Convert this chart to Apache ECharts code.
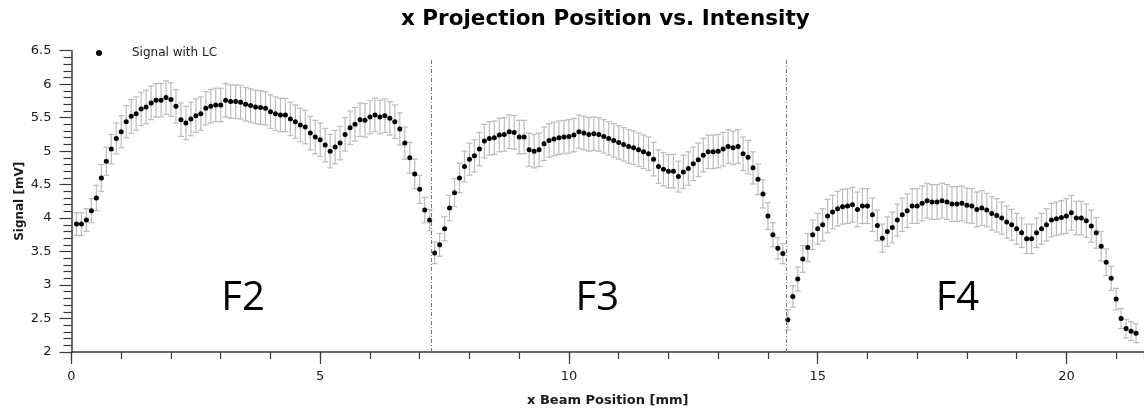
<!DOCTYPE html>
<html>
<head>
<meta charset="utf-8">
<title>x Projection Position vs. Intensity</title>
<script src="https://cdn.jsdelivr.net/npm/echarts@6/dist/echarts.min.js"></script>
<style>
  html, body { margin: 0; padding: 0; background: #fff; }
  #chart { width: 1144px; height: 412px; }
</style>
</head>
<body>
<div id="chart"></div>
<script>
// samples every 0.1 mm starting at 0.1 mm
var firstPosition = 0.1;
var positionStep = 0.1;

// signal [mV], read per field
var f2Signal = [
  3.91, 3.91, 3.97, 4.11, 4.30, 4.60, 4.85, 5.03, 5.19, 5.29,
  5.44, 5.52, 5.56, 5.63, 5.66, 5.72, 5.76, 5.76, 5.80, 5.77,
  5.67, 5.47, 5.42, 5.48, 5.53, 5.56, 5.64, 5.67, 5.69, 5.69,
  5.76, 5.74, 5.74, 5.73, 5.70, 5.68, 5.66, 5.65, 5.64, 5.59,
  5.56, 5.54, 5.54, 5.48, 5.44, 5.39, 5.36, 5.27, 5.21, 5.17,
  5.09, 5.00, 5.06, 5.12, 5.25, 5.35, 5.40, 5.47, 5.46, 5.51,
  5.54, 5.51, 5.53, 5.49, 5.44, 5.33, 5.12, 4.90, 4.66, 4.43,
  4.12, 3.97
];
var f3Signal = [
  3.48, 3.60, 3.84, 4.15, 4.38, 4.60, 4.77, 4.88, 4.93, 5.03,
  5.15, 5.19, 5.20, 5.24, 5.25, 5.29, 5.28, 5.21, 5.21, 5.02,
  5.00, 5.02, 5.11, 5.16, 5.18, 5.20, 5.21, 5.22, 5.24, 5.29,
  5.27, 5.25, 5.26, 5.25, 5.22, 5.19, 5.16, 5.13, 5.10, 5.07,
  5.05, 5.02, 4.99, 4.96, 4.88, 4.77, 4.73, 4.70, 4.70, 4.62,
  4.69, 4.74, 4.81, 4.87, 4.94, 4.99, 4.99, 5.00, 5.03, 5.07,
  5.05, 5.07, 4.96, 4.91, 4.75, 4.58, 4.36, 4.03, 3.75, 3.55,
  3.47
];
var f4Signal = [
  2.48, 2.83, 3.09, 3.39, 3.56, 3.75, 3.84, 3.90, 4.03, 4.09,
  4.14, 4.17, 4.18, 4.20, 4.13, 4.18, 4.18, 4.05, 3.89, 3.70,
  3.80, 3.86, 3.97, 4.05, 4.11, 4.18, 4.18, 4.22, 4.26, 4.24,
  4.24, 4.26, 4.24, 4.21, 4.21, 4.22, 4.19, 4.18, 4.13, 4.15,
  4.12, 4.07, 4.04, 4.00, 3.94, 3.90, 3.84, 3.78, 3.69, 3.69,
  3.78, 3.84, 3.90, 3.97, 3.99, 4.01, 4.03, 4.08, 4.00, 4.00,
  3.96, 3.88, 3.78, 3.58, 3.34, 3.10, 2.79, 2.50, 2.35, 2.31,
  2.28
];

// half length of the error bars [mV]
var f2Error = [
  0.17, 0.17, 0.17, 0.18, 0.19, 0.20, 0.21, 0.22, 0.23, 0.24,
  0.24, 0.25, 0.25, 0.25, 0.25, 0.25, 0.25, 0.25, 0.25, 0.25,
  0.25, 0.25, 0.25, 0.25, 0.25, 0.25, 0.25, 0.25, 0.25, 0.25,
  0.25, 0.25, 0.25, 0.25, 0.25, 0.25, 0.25, 0.25, 0.25, 0.25,
  0.25, 0.25, 0.25, 0.25, 0.25, 0.25, 0.25, 0.25, 0.25, 0.25,
  0.25, 0.25, 0.25, 0.25, 0.25, 0.25, 0.25, 0.25, 0.25, 0.25,
  0.25, 0.25, 0.25, 0.25, 0.25, 0.24, 0.24, 0.23, 0.22, 0.21,
  0.19, 0.16
];
var f3Error = [
  0.16, 0.17, 0.18, 0.19, 0.21, 0.22, 0.23, 0.24, 0.24, 0.25,
  0.25, 0.25, 0.25, 0.25, 0.25, 0.25, 0.25, 0.25, 0.25, 0.25,
  0.25, 0.25, 0.25, 0.25, 0.25, 0.25, 0.25, 0.25, 0.25, 0.25,
  0.25, 0.25, 0.25, 0.25, 0.25, 0.25, 0.25, 0.25, 0.25, 0.25,
  0.25, 0.25, 0.25, 0.25, 0.25, 0.25, 0.25, 0.25, 0.25, 0.23,
  0.25, 0.25, 0.25, 0.25, 0.25, 0.25, 0.25, 0.25, 0.25, 0.25,
  0.25, 0.25, 0.25, 0.25, 0.24, 0.23, 0.21, 0.20, 0.18, 0.16,
  0.15
];
var f4Error = [
  0.15, 0.16, 0.18, 0.20, 0.21, 0.22, 0.23, 0.24, 0.25, 0.25,
  0.26, 0.26, 0.26, 0.26, 0.26, 0.26, 0.26, 0.25, 0.23, 0.21,
  0.22, 0.23, 0.24, 0.25, 0.25, 0.26, 0.26, 0.26, 0.26, 0.26,
  0.26, 0.26, 0.26, 0.26, 0.26, 0.26, 0.26, 0.26, 0.26, 0.26,
  0.25, 0.25, 0.25, 0.24, 0.24, 0.23, 0.23, 0.22, 0.22, 0.22,
  0.22, 0.23, 0.24, 0.25, 0.25, 0.25, 0.26, 0.26, 0.25, 0.25,
  0.25, 0.24, 0.23, 0.22, 0.20, 0.18, 0.16, 0.15, 0.14, 0.14,
  0.14
];

// field borders [mm] and the field names written in the plot
var dividers = [7.24, 14.37];
var dividerTop = 6.38;
var fieldNames = ['F2', 'F3', 'F4'];
var fieldLabelX = [3.45, 10.57, 17.81];
var fieldLabelY = 2.79;

function buildPoints () {
  var signal = f2Signal.concat(f3Signal, f4Signal);
  var error = f2Error.concat(f3Error, f4Error);
  var points = [];
  for (var i = 0; i < signal.length; i++) {
    var x = Math.round((firstPosition + i * positionStep) * 10) / 10;
    points.push([x, signal[i], error[i]]);
  }
  return points;
}

function renderErrorBar (params, api) {
  var x = api.value(0);
  var y = api.value(1);
  var e = api.value(2);
  var hi = api.coord([x, y + e]);
  var lo = api.coord([x, y - e]);
  var cap = 3;
  var style = { stroke: '#bcbcbc', lineWidth: 1.2 };
  return {
    type: 'group',
    children: [
      { type: 'line', shape: { x1: hi[0], y1: hi[1], x2: lo[0], y2: lo[1] }, style: style },
      { type: 'line', shape: { x1: hi[0] - cap, y1: hi[1], x2: hi[0] + cap, y2: hi[1] }, style: style },
      { type: 'line', shape: { x1: lo[0] - cap, y1: lo[1], x2: lo[0] + cap, y2: lo[1] }, style: style }
    ]
  };
}

function drawChart () {
  var chartDom = document.getElementById('chart');
  var myChart = echarts.init(chartDom, null, { renderer: 'canvas' });
  var points = buildPoints();
  var axisColor = '#3a3a3a';
  var textColor = '#1a1a1a';

  var dividerLines = dividers.map(function (d) {
    return [{ coord: [d, 2] }, { coord: [d, dividerTop] }];
  });
  var fieldLabels = fieldNames.map(function (n, i) {
    return { name: n, value: [fieldLabelX[i], fieldLabelY] };
  });

  var option = {
    animation: false,
    textStyle: { fontFamily: 'DejaVu Sans' },
    title: {
      text: 'x Projection Position vs. Intensity',
      left: 401,
      top: 8,
      padding: 0,
      textStyle: { fontFamily: 'DejaVu Sans', fontWeight: 'bold', fontSize: 21.5, color: '#000' }
    },
    legend: {
      data: [{ name: 'Signal with LC', icon: 'circle', itemStyle: { color: '#000', opacity: 1 } }],
      left: 96,
      top: 47,
      padding: 0,
      itemWidth: 6,
      itemHeight: 6,
      textStyle: { fontFamily: 'DejaVu Sans', fontSize: 12, color: textColor, padding: [0, 0, 0, 25] }
    },
    grid: { left: 71.5, right: 0, top: 50.7, bottom: 58, containLabel: false },
    xAxis: [
      {
        type: 'value',
        min: 0,
        max: 21.56,
        interval: 5,
        name: 'x Beam Position [mm]',
        nameLocation: 'middle',
        nameGap: 42,
        nameTextStyle: { fontFamily: 'DejaVu Sans', fontWeight: 'bold', fontSize: 13, color: textColor },
        axisLine: { show: true, onZero: false, lineStyle: { color: axisColor, width: 1.5 } },
        axisTick: { show: true, length: 12, lineStyle: { color: axisColor, width: 1.2 } },
        axisLabel: { margin: 18, fontSize: 13, color: textColor, showMaxLabel: false },
        splitLine: { show: false }
      },
      {
        type: 'value',
        min: 0,
        max: 21.56,
        interval: 1,
        position: 'bottom',
        axisLine: { show: false, onZero: false },
        axisTick: { show: true, length: 7, lineStyle: { color: axisColor, width: 1.2 } },
        axisLabel: { show: false },
        splitLine: { show: false }
      }
    ],
    yAxis: {
      type: 'value',
      min: 2,
      max: 6.5,
      interval: 0.5,
      name: 'Signal [mV]',
      nameLocation: 'middle',
      nameGap: 46,
      nameMoveOverlap: false,
      nameTextStyle: { fontFamily: 'DejaVu Sans', fontWeight: 'bold', fontSize: 12, color: textColor },
      axisLine: { show: true, onZero: false, lineStyle: { color: axisColor, width: 1.5 } },
      axisTick: { show: true, length: 12, lineStyle: { color: axisColor, width: 1.2 } },
      minorTick: { show: true, splitNumber: 5, length: 8, lineStyle: { color: axisColor, width: 1.2 } },
      axisLabel: { margin: 20, fontSize: 13, color: textColor },
      splitLine: { show: false }
    },
    series: [
      {
        name: 'error',
        type: 'custom',
        renderItem: renderErrorBar,
        encode: { x: 0, y: 1 },
        data: points,
        z: 2,
        silent: true
      },
      {
        name: 'Signal with LC',
        type: 'scatter',
        data: points,
        symbol: 'circle',
        symbolSize: 5,
        itemStyle: { color: '#000', opacity: 1 },
        z: 3,
        markLine: {
          silent: true,
          symbol: 'none',
          label: { show: false },
          lineStyle: { color: '#777', width: 1, type: [4, 2, 1, 2] },
          data: dividerLines
        }
      },
      {
        name: 'fields',
        type: 'scatter',
        data: fieldLabels,
        symbolSize: 1,
        itemStyle: { color: '#fff', opacity: 1 },
        silent: true,
        label: {
          show: true,
          position: 'inside',
          formatter: '{b}',
          fontFamily: 'Open Sans',
          fontSize: 40,
          color: '#000'
        }
      }
    ]
  };

  option && myChart.setOption(option);
}

drawChart();
</script>
</body>
</html>
